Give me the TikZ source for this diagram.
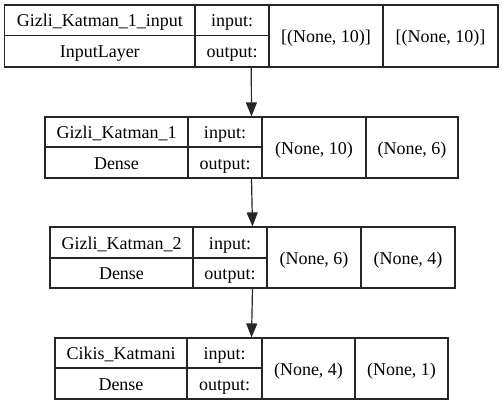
\documentclass[tikz,border=0pt]{standalone}
\usepackage{fontspec}
\setmainfont{Liberation Serif}
\usetikzlibrary{arrows.meta}
\tikzset{
  cellline/.style={draw=black!85, line width=1.2pt},
  txt/.style={inner sep=0pt, text height=13pt, text depth=0pt, font=\fontsize{18}{20}\selectfont},
  arr/.style={draw=black!85, line width=1.2pt, -{Triangle[length=14pt,width=11pt]}, shorten >=0.6pt}
}
% #1 id, #2 left, #3 c1, #4 c2, #5 c3, #6 right, #7 top, #8 mid, #9 bottom
\newcommand\layergeom[9]{%
  \draw[cellline] (#2,#7) rectangle (#6,#9);
  \draw[cellline] (#3,#7) -- (#3,#9) (#4,#7) -- (#4,#9) (#5,#7) -- (#5,#9) (#2,#8) -- (#4,#8);
  \coordinate (#1-top) at ({(#2+#6)/2},#7);
  \coordinate (#1-bot) at ({(#2+#6)/2},#9);
  \coordinate (#1-name) at ({(#2+#3)/2},{(#7+#8)/2});
  \coordinate (#1-type) at ({(#2+#3)/2},{(#8+#9)/2});
  \coordinate (#1-inl) at ({(#3+#4)/2},{(#7+#8)/2});
  \coordinate (#1-outl) at ({(#3+#4)/2},{(#8+#9)/2});
  \coordinate (#1-ins) at ({(#4+#5)/2},{(#7+#9)/2});
  \coordinate (#1-outs) at ({(#5+#6)/2},{(#7+#9)/2});
}
\begin{document}
\begin{tikzpicture}[x=1pt,y=-1pt]
\useasboundingbox[fill=white] (0,0) rectangle (504,405);
\layergeom{L1}{4.5}{195}{269}{383}{498}{5}{35.5}{67}
\layergeom{L2}{45}{188}{262}{366}{458}{117}{147}{178}
\layergeom{L3}{50}{193}{267}{361}{455}{227}{258}{288}
\layergeom{L4}{55}{187}{262}{355}{448}{338}{368}{399}

\node[txt] (L1n) at (L1-name) {Gizli\_Katman\_1\_input};
\node[txt] (L1t) at (L1-type) {InputLayer};
\node[txt] (L1i) at (L1-inl) {input:};
\node[txt] (L1o) at (L1-outl) {output:};
\node[txt] (L1is) at (L1-ins) {[(None, 10)]};
\node[txt] (L1os) at (L1-outs) {[(None, 10)]};

\node[txt] (L2n) at (L2-name) {Gizli\_Katman\_1};
\node[txt] (L2t) at (L2-type) {Dense};
\node[txt] (L2i) at (L2-inl) {input:};
\node[txt] (L2o) at (L2-outl) {output:};
\node[txt] (L2is) at (L2-ins) {(None, 10)};
\node[txt] (L2os) at (L2-outs) {(None, 6)};

\node[txt] (L3n) at (L3-name) {Gizli\_Katman\_2};
\node[txt] (L3t) at (L3-type) {Dense};
\node[txt] (L3i) at (L3-inl) {input:};
\node[txt] (L3o) at (L3-outl) {output:};
\node[txt] (L3is) at (L3-ins) {(None, 6)};
\node[txt] (L3os) at (L3-outs) {(None, 4)};

\node[txt] (L4n) at (L4-name) {Cikis\_Katmani};
\node[txt] (L4t) at (L4-type) {Dense};
\node[txt] (L4i) at (L4-inl) {input:};
\node[txt] (L4o) at (L4-outl) {output:};
\node[txt] (L4is) at (L4-ins) {(None, 4)};
\node[txt] (L4os) at (L4-outs) {(None, 1)};

\draw[arr] (L1-bot) -- (L2-top);
\draw[arr] (L2-bot) -- (L3-top);
\draw[arr] (L3-bot) -- (L4-top);
\end{tikzpicture}
\end{document}
